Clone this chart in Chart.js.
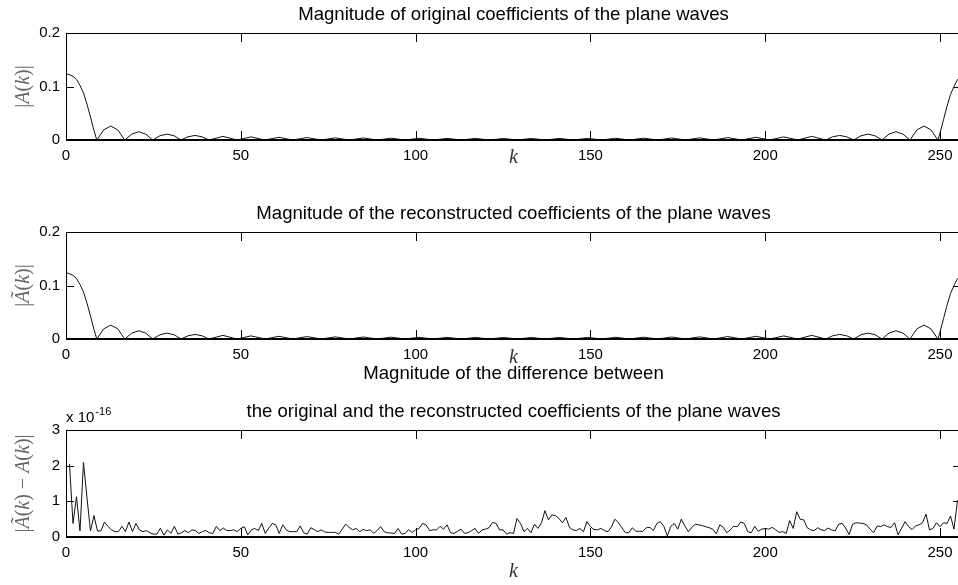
<!DOCTYPE html>
<html>
<head>
<meta charset="utf-8">
<script src="https://cdn.jsdelivr.net/npm/chart.js@4.4.1/dist/chart.umd.min.js"></script>
<style>
  html, body { margin: 0; padding: 0; background: #fff; overflow: hidden; }
  #wrap { position: relative; width: 958px; height: 585px; overflow: hidden; }
  #wrap canvas { position: absolute; left: 0; top: 0; }
</style>
</head>
<body>
<div id="wrap">
  <canvas id="plotOrig" width="965" height="585"></canvas>
  <canvas id="plotRecon" width="965" height="585"></canvas>
  <canvas id="plotDiff" width="965" height="585"></canvas>
</div>
<script>
// tick positions
const kTicks = [0, 50, 100, 150, 200, 250];
const magTicks = [0, 0.1, 0.2];
const diffTicks = [0, 1, 2, 3];

// |A(k)| : main lobe, side lobes (zero / peak points), main lobe again at the end
const kMag = [
  0, 1, 2, 3, 4, 5, 6, 7, 8, 8.8,
  10.8, 12.8, 14.8, 16.8, 18.8, 20.8, 22.8, 24.8,
  26.9, 28.9, 30.9, 32.9, 34.9, 36.9, 38.9, 40.9,
  44.9, 48.9, 52.9, 56.9, 60.9, 64.9, 68.9, 73.0,
  77.0, 81.0, 85.0, 89.0, 93.0, 97.0, 101.0, 105.0,
  109.0, 113.1, 117.1, 121.1, 125.1, 129.1, 133.1, 137.1,
  141.1, 145.1, 149.2, 153.2, 157.2, 161.2, 165.2, 169.2,
  173.2, 177.2, 181.2, 185.2, 189.3, 193.3, 197.3, 201.3,
  205.3, 209.3, 213.3, 217.3,
  219.3, 221.3, 223.3, 225.3, 227.4, 229.4, 231.4, 233.4,
  235.4, 237.4, 239.4, 241.4, 243.4, 245.4, 247.4, 249.4,
  250, 251, 252, 253, 254, 255, 256
];
const magOrig = [
  0.124, 0.122, 0.119, 0.113, 0.102, 0.088, 0.067, 0.043, 0.018, 0,
  0.019, 0.026, 0.019, 0, 0.011, 0.0155, 0.011, 0,
  0.008, 0.011, 0.008, 0, 0.006, 0.0085, 0.006, 0,
  0.0068, 0, 0.0058, 0, 0.005, 0, 0.0045, 0,
  0.004, 0, 0.0037, 0, 0.0034, 0, 0.0032, 0,
  0.003, 0, 0.0029, 0, 0.0028, 0, 0.0028, 0,
  0.0029, 0, 0.003, 0, 0.0032, 0, 0.0034, 0,
  0.0037, 0, 0.004, 0, 0.0045, 0, 0.005, 0,
  0.0058, 0, 0.0068, 0,
  0.006, 0.0085, 0.006, 0, 0.008, 0.011, 0.008, 0,
  0.011, 0.0155, 0.011, 0, 0.019, 0.026, 0.019, 0,
  0.013, 0.038, 0.063, 0.085, 0.100, 0.113, 0.119
];
// reconstruction agrees to ~1e-16, so the curve is the same
const magRecon = magOrig.slice();

// |Ã(k) - A(k)| for k = 1..256, in units of 1e-16
const diffExp = -16;
const diffScaled = [
  2.05, 0.38, 1.13, 0.17, 2.09, 1.10, 0.17, 0.60, 0.17, 0.17, 0.42, 0.30, 0.20, 0.15, 0.15, 0.30,
  0.15, 0.42, 0.15, 0.38, 0.20, 0.15, 0.18, 0.12, 0.08, 0.08, 0.25, 0.05, 0.20, 0.10, 0.30, 0.08,
  0.12, 0.18, 0.12, 0.20, 0.18, 0.10, 0.15, 0.18, 0.12, 0.10, 0.30, 0.18, 0.25, 0.18, 0.18, 0.20,
  0.15, 0.24, 0.29, 0.06, 0.20, 0.24, 0.18, 0.38, 0.10, 0.25, 0.38, 0.34, 0.10, 0.34, 0.20, 0.15,
  0.15, 0.15, 0.31, 0.12, 0.08, 0.26, 0.21, 0.15, 0.20, 0.14, 0.13, 0.13, 0.13, 0.08, 0.22, 0.36,
  0.27, 0.20, 0.24, 0.15, 0.21, 0.18, 0.20, 0.10, 0.18, 0.29, 0.15, 0.12, 0.11, 0.10, 0.24, 0.08,
  0.10, 0.21, 0.13, 0.20, 0.24, 0.38, 0.34, 0.18, 0.20, 0.20, 0.30, 0.22, 0.34, 0.12, 0.10, 0.16,
  0.22, 0.10, 0.12, 0.18, 0.24, 0.10, 0.20, 0.22, 0.26, 0.41, 0.38, 0.20, 0.20, 0.08, 0.12, 0.10,
  0.52, 0.38, 0.15, 0.24, 0.12, 0.36, 0.24, 0.40, 0.74, 0.48, 0.62, 0.60, 0.52, 0.40, 0.55, 0.27,
  0.20, 0.18, 0.24, 0.15, 0.43, 0.29, 0.21, 0.20, 0.24, 0.18, 0.15, 0.28, 0.50, 0.40, 0.26, 0.12,
  0.12, 0.26, 0.16, 0.16, 0.16, 0.26, 0.27, 0.18, 0.38, 0.43, 0.30, 0.03, 0.30, 0.38, 0.22, 0.50,
  0.31, 0.15, 0.27, 0.36, 0.34, 0.32, 0.29, 0.26, 0.22, 0.09, 0.34, 0.27, 0.12, 0.20, 0.30, 0.29,
  0.42, 0.38, 0.15, 0.12, 0.30, 0.16, 0.22, 0.24, 0.22, 0.27, 0.20, 0.13, 0.15, 0.10, 0.46, 0.24,
  0.71, 0.50, 0.48, 0.26, 0.20, 0.18, 0.26, 0.20, 0.18, 0.25, 0.20, 0.17, 0.36, 0.38, 0.25, 0.07,
  0.36, 0.40, 0.39, 0.38, 0.34, 0.22, 0.12, 0.31, 0.29, 0.34, 0.29, 0.27, 0.40, 0.06, 0.24, 0.43,
  0.29, 0.21, 0.31, 0.34, 0.40, 0.64, 0.20, 0.24, 0.40, 0.29, 0.40, 0.38, 0.59, 0.22, 1.02, 1.02
];
const kDiff = diffScaled.map((v, i) => i + 1);

// labels: [text, italic]
const labelOrig = [['|', 0], ['A', 1], ['(', 0], ['k', 1], [')', 0], ['|', 0]];
const labelRecon = [['|', 0], ['Ã', 1], ['(', 0], ['k', 1], [')', 0], ['|', 0]];
const labelDiff = [['|', 0], ['Ã', 1], ['(', 0], ['k', 1], [')', 0], [' − ', 0],
                   ['A', 1], ['(', 0], ['k', 1], [')', 0], ['|', 0]];

const SANS = "'Liberation Sans', Arial, Helvetica, sans-serif";
const SERIF = "'Liberation Serif', 'Times New Roman', serif";
Chart.defaults.font.family = SANS;

function drawMath(ctx, parts, size) {
  // centred run of upright / italic pieces at the origin
  const fonts = parts.map(p => (p[1] ? 'italic ' : '') + size + 'px ' + SERIF);
  let total = 0;
  const widths = parts.map((p, i) => { ctx.font = fonts[i]; const w = ctx.measureText(p[0]).width; total += w; return w; });
  let x = -total / 2;
  parts.forEach((p, i) => { ctx.font = fonts[i]; ctx.fillText(p[0], x, 0); x += widths[i]; });
}

// box with inward ticks on all four sides
const axesBox = {
  id: 'axesBox',
  afterDatasetsDraw(chart) {
    const { ctx, chartArea: a, scales: { x, y } } = chart;
    ctx.save();
    ctx.strokeStyle = '#000';
    ctx.lineWidth = 1;
    ctx.beginPath();
    x.ticks.forEach(t => {
      const px = Math.round(x.getPixelForValue(t.value)) + 0.5;
      ctx.moveTo(px, a.bottom); ctx.lineTo(px, a.bottom - 9);
      ctx.moveTo(px, a.top); ctx.lineTo(px, a.top + 9);
    });
    y.ticks.forEach(t => {
      const py = Math.round(y.getPixelForValue(t.value)) + 0.5;
      ctx.moveTo(a.left, py); ctx.lineTo(a.left + 8, py);
      ctx.moveTo(a.right, py); ctx.lineTo(a.right - 8, py);
    });
    ctx.stroke();
    ctx.strokeRect(a.left + 0.5, a.top + 0.5, a.right - a.left, a.bottom - a.top);
    ctx.lineWidth = 2;
    ctx.beginPath();
    ctx.moveTo(a.left, a.bottom); ctx.lineTo(a.right, a.bottom);
    ctx.stroke();
    ctx.restore();
  }
};

// titles, axis labels and exponent
const panelText = {
  id: 'panelText',
  afterDraw(chart, args, opts) {
    const { ctx, chartArea: a } = chart;
    const cx = (a.left + a.right) / 2;
    ctx.save();
    ctx.fillStyle = '#000';
    ctx.textAlign = 'center';
    ctx.textBaseline = 'alphabetic';
    ctx.font = '18.6px ' + SANS;
    opts.titles.forEach(t => ctx.fillText(t[0], cx, a.top - t[1]));

    ctx.fillStyle = '#333';
    ctx.textAlign = 'left';
    ctx.save();
    ctx.translate(cx, a.bottom + opts.kGap);
    drawMath(ctx, [['k', 1]], 20);
    ctx.restore();

    ctx.fillStyle = '#666';
    ctx.save();
    ctx.translate(29, (a.top + a.bottom) / 2);
    ctx.rotate(-Math.PI / 2);
    drawMath(ctx, opts.ylabel, 20);
    ctx.restore();

    if (opts.exponent) {
      ctx.fillStyle = '#000';
      ctx.font = '15px ' + SANS;
      const base = 'x 10';
      ctx.fillText(base, a.left, a.top - 8);
      const w = ctx.measureText(base).width;
      ctx.font = '11px ' + SANS;
      ctx.fillText(String(opts.exponent), a.left + w + 1, a.top - 15);
    }
    ctx.restore();
  }
};

function makePanel(id, p) {
  return new Chart(document.getElementById(id), {
    type: 'line',
    data: {
      datasets: [{
        data: p.xs.map((k, i) => ({ x: k, y: p.ys[i] })),
        borderColor: '#111',
        borderWidth: 1,
        pointRadius: 0,
        tension: 0,
        fill: false
      }]
    },
    options: {
      responsive: false,
      animation: false,
      events: [],
      layout: { padding: { top: p.top, right: 4, left: 0, bottom: 0 } },
      plugins: {
        legend: { display: false },
        tooltip: { enabled: false },
        panelText: { titles: p.titles, ylabel: p.ylabel, kGap: p.kGap, exponent: p.exponent }
      },
      scales: {
        x: {
          type: 'linear',
          min: 0,
          max: 256,
          afterBuildTicks: s => { s.ticks = kTicks.map(v => ({ value: v })); },
          afterFit: s => { s.height = 585 - p.bottom; },
          ticks: { color: '#000', font: { size: 15 }, padding: 7, maxRotation: 0, autoSkip: false },
          grid: { display: false, drawTicks: false },
          border: { display: false }
        },
        y: {
          min: 0,
          max: p.yTicks[p.yTicks.length - 1],
          afterBuildTicks: s => { s.ticks = p.yTicks.map(v => ({ value: v })); },
          afterFit: s => { s.width = 66; },
          ticks: { color: '#000', font: { size: 15 }, padding: 6 },
          grid: { display: false, drawTicks: false },
          border: { display: false }
        }
      }
    },
    plugins: [axesBox, panelText]
  });
}

makePanel('plotOrig', {
  xs: kMag, ys: magOrig, yTicks: magTicks, top: 33, bottom: 140, kGap: 23,
  titles: [['Magnitude of original coefficients of the plane waves', 13]],
  ylabel: labelOrig
});

makePanel('plotRecon', {
  xs: kMag, ys: magRecon, yTicks: magTicks, top: 232, bottom: 339, kGap: 24,
  titles: [['Magnitude of the reconstructed coefficients of the plane waves', 13]],
  ylabel: labelRecon
});

makePanel('plotDiff', {
  xs: kDiff, ys: diffScaled, yTicks: diffTicks, top: 430, bottom: 537, kGap: 40,
  titles: [['Magnitude of the difference between', 51],
           ['the original and the reconstructed coefficients of the plane waves', 13]],
  ylabel: labelDiff,
  exponent: diffExp
});
</script>
</body>
</html>
